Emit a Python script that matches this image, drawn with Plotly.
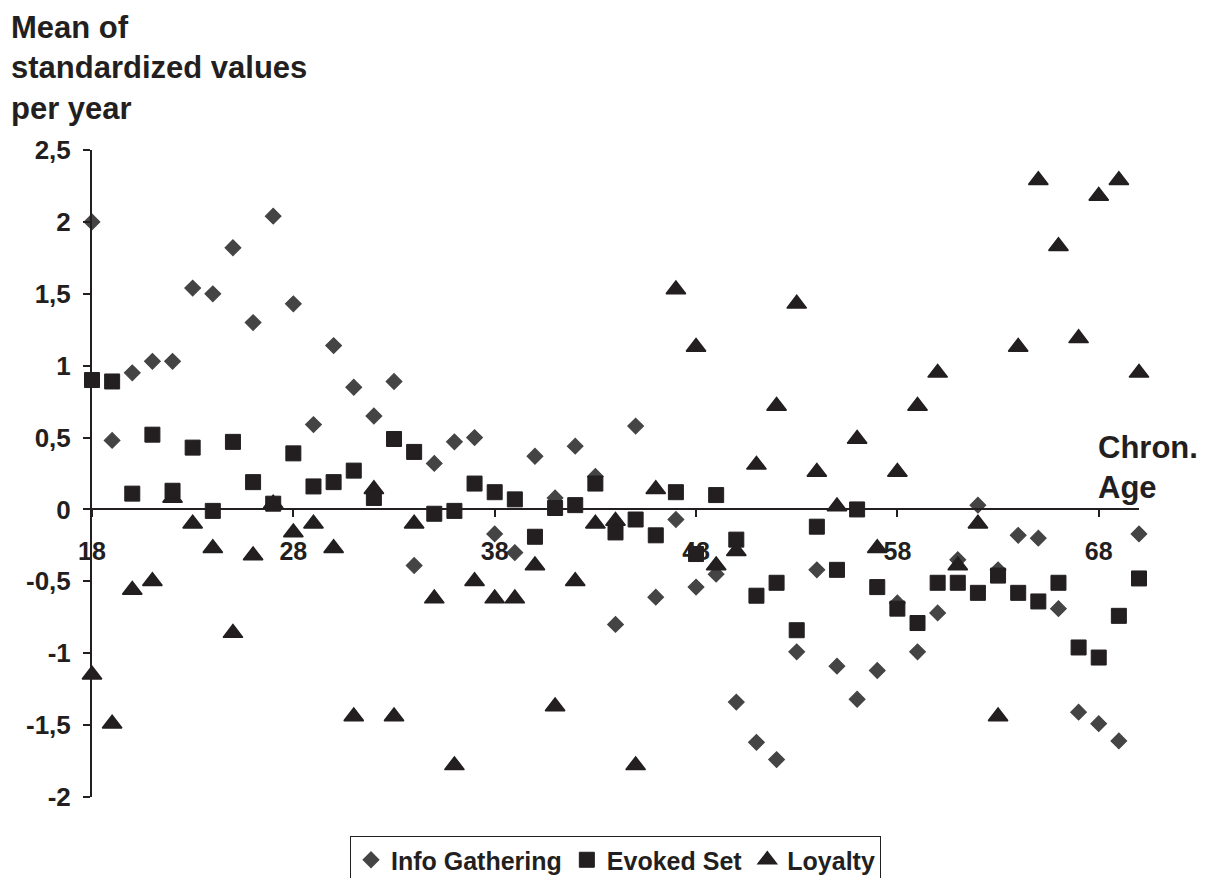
import plotly.graph_objects as go

ages = list(range(18, 71))

info_gathering = [2.00, 0.48, 0.95, 1.03, 1.03, 1.54, 1.50, 1.82, 1.30, 2.04,
                  1.43, 0.59, 1.14, 0.85, 0.65, 0.89, -0.39, 0.32, 0.47, 0.50,
                  -0.17, -0.30, 0.37, 0.08, 0.44, 0.23, -0.80, 0.58, -0.61, -0.07,
                  -0.54, -0.45, -1.34, -1.62, -1.74, -0.99, -0.42, -1.09, -1.32, -1.12,
                  -0.65, -0.99, -0.72, -0.35, 0.03, -0.42, -0.18, -0.20, -0.69, -1.41,
                  -1.49, -1.61, -0.17]

evoked_set = [0.90, 0.89, 0.11, 0.52, 0.13, 0.43, -0.01, 0.47, 0.19, 0.04,
              0.39, 0.16, 0.19, 0.27, 0.08, 0.49, 0.40, -0.03, -0.01, 0.18,
              0.12, 0.07, -0.19, 0.01, 0.03, 0.18, -0.16, -0.07, -0.18, 0.12,
              -0.31, 0.10, -0.21, -0.60, -0.51, -0.84, -0.12, -0.42, 0.00, -0.54,
              -0.69, -0.79, -0.51, -0.51, -0.58, -0.46, -0.58, -0.64, -0.51, -0.96,
              -1.03, -0.74, -0.48]

loyalty = [-1.15, -1.49, -0.56, -0.50, 0.08, -0.10, -0.27, -0.86, -0.32, 0.04,
           -0.16, -0.10, -0.27, -1.44, 0.14, -1.44, -0.10, -0.62, -1.78, -0.50,
           -0.62, -0.62, -0.39, -1.37, -0.50, -0.10, -0.08, -1.78, 0.14, 1.53,
           1.13, -0.39, -0.29, 0.31, 0.72, 1.43, 0.26, 0.02, 0.49, -0.27,
           0.26, 0.72, 0.95, -0.39, -0.10, -1.44, 1.13, 2.29, 1.83, 1.19,
           2.18, 2.29, 0.95]

x_tick_vals = [18, 28, 38, 48, 58, 68]
y_tick_vals = [-2, -1.5, -1, -0.5, 0, 0.5, 1, 1.5, 2, 2.5]
y_tick_text = ["-2", "-1,5", "-1", "-0,5", "0", "0,5", "1", "1,5", "2", "2,5"]

FONT = "Liberation Sans, Arial, sans-serif"
DARK = "#231f20"
GRAY = "#444444"

# page body has an 8px margin in the browser, so the figure is 8px smaller
W, H = 1198, 870
L, T, R, B = 84, 142, 67, 81
PH = H - T - B  # plot height in px (647)


def py(ref_pixel_y):
    """paper y for a pixel row measured in reference-image coordinates"""
    return (797 - ref_pixel_y) / PH


def px(ref_pixel_x):
    return (ref_pixel_x - 92) / (W - L - R)


fig = go.Figure()

fig.add_trace(go.Scatter(
    x=ages, y=info_gathering, mode="markers", name="Info Gathering",
    legendrank=1, cliponaxis=False,
    marker=dict(symbol="diamond", size=12, color=GRAY, line=dict(width=1.2, color=GRAY)),
))
fig.add_trace(go.Scatter(
    x=ages, y=loyalty, mode="markers", name="Loyalty",
    legendrank=3, cliponaxis=False,
    marker=dict(symbol="triangle-up", size=17, color=DARK, line=dict(width=1.5, color=DARK)),
))
fig.add_trace(go.Scatter(
    x=ages, y=evoked_set, mode="markers", name="Evoked Set",
    legendrank=2, cliponaxis=False,
    marker=dict(symbol="square", size=15, color=DARK, line=dict(width=1, color=DARK)),
))

fig.update_layout(
    width=W, height=H,
    margin=dict(l=L, r=R, t=T, b=B, autoexpand=False),
    paper_bgcolor="white", plot_bgcolor="white",
    font=dict(family=FONT, color=DARK),
    showlegend=True,
    legend=dict(
        orientation="h", x=0.5, xanchor="center", y=py(836), yanchor="top",
        font=dict(family=FONT, size=25, color=DARK, weight="bold"),
        bordercolor=DARK, borderwidth=1, bgcolor="white",
        traceorder="normal",
    ),
    xaxis=dict(
        range=[18, 70], anchor="free", position=2 / 4.5,
        showline=True, linecolor=DARK, linewidth=2,
        showgrid=False, zeroline=False,
        tickmode="array", tickvals=x_tick_vals,
        ticks="outside", ticklen=7, tickwidth=2, tickcolor=DARK,
        ticklabelstandoff=13,
        tickfont=dict(family=FONT, size=25, color=DARK, weight="bold"),
    ),
    yaxis=dict(
        range=[-2, 2.5],
        showline=True, linecolor=DARK, linewidth=2,
        showgrid=False, zeroline=False,
        tickmode="array", tickvals=y_tick_vals, ticktext=y_tick_text,
        ticks="outside", ticklen=7, tickwidth=2, tickcolor=DARK,
        ticklabelstandoff=7,
        tickfont=dict(family=FONT, size=26, color=DARK, weight="bold"),
    ),
    annotations=[
        dict(
            text="Mean of<br>standardized values<br>per year",
            xref="paper", yref="paper", x=px(10), y=py(9),
            xanchor="left", yanchor="top", align="left", showarrow=False,
            borderpad=0,
            font=dict(family=FONT, size=31, color=DARK, weight="bold"),
        ),
        dict(
            text="Chron.<br>Age",
            xref="paper", yref="paper", x=px(1096), y=py(428),
            xanchor="left", yanchor="top", align="left", showarrow=False,
            font=dict(family=FONT, size=31, color=DARK, weight="bold"),
        ),
    ],
)

fig.write_html("out.html")
